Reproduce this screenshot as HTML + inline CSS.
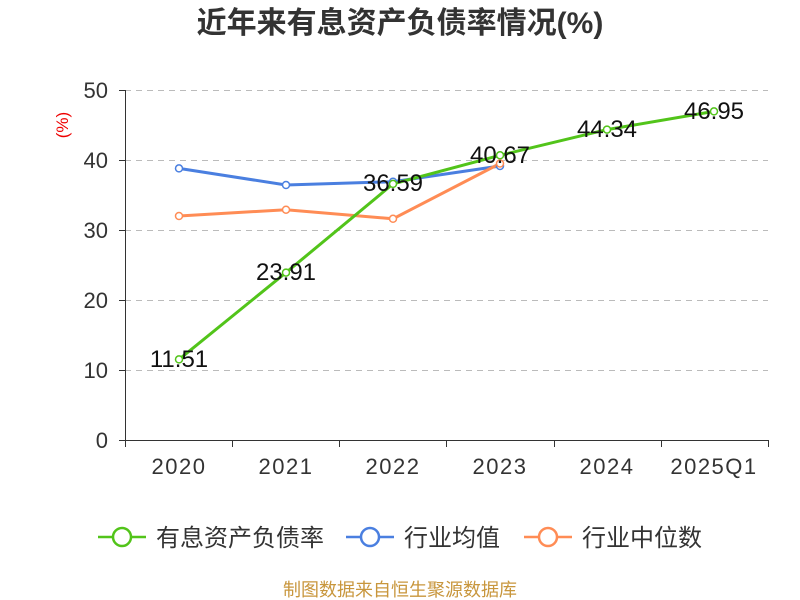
<!DOCTYPE html>
<html><head><meta charset="utf-8"><style>
body{margin:0;background:#fff;}
svg{display:block;font-family:"Liberation Sans","Noto Sans CJK SC",sans-serif;}
</style></head><body>
<svg width="800" height="600" xmlns="http://www.w3.org/2000/svg">
<text x="400" y="33" text-anchor="middle" font-size="30" font-weight="bold" fill="#333">近年来有息资产负债率情况(%)</text>
<text x="68" y="125" text-anchor="middle" font-size="17" fill="#e00" transform="rotate(-90 68 125)">(%)</text>
<g stroke="#bbb" stroke-dasharray="6,5" stroke-width="1">
<line x1="125" y1="90.5" x2="768" y2="90.5"/><line x1="125" y1="160.5" x2="768" y2="160.5"/>
<line x1="125" y1="230.5" x2="768" y2="230.5"/><line x1="125" y1="300.5" x2="768" y2="300.5"/>
<line x1="125" y1="370.5" x2="768" y2="370.5"/>
</g>
<g stroke="#333" stroke-width="1">
<line x1="125.5" y1="90" x2="125.5" y2="440"/>
<line x1="125" y1="440.5" x2="769" y2="440.5"/>
<line x1="119" y1="90.5" x2="125" y2="90.5"/><line x1="119" y1="160.5" x2="125" y2="160.5"/>
<line x1="119" y1="230.5" x2="125" y2="230.5"/><line x1="119" y1="300.5" x2="125" y2="300.5"/>
<line x1="119" y1="370.5" x2="125" y2="370.5"/><line x1="119" y1="440.5" x2="125" y2="440.5"/>
<line x1="125.5" y1="440" x2="125.5" y2="447"/><line x1="232.5" y1="440" x2="232.5" y2="447"/>
<line x1="339.5" y1="440" x2="339.5" y2="447"/><line x1="446.5" y1="440" x2="446.5" y2="447"/>
<line x1="554.5" y1="440" x2="554.5" y2="447"/><line x1="661.5" y1="440" x2="661.5" y2="447"/>
<line x1="768.5" y1="440" x2="768.5" y2="447"/>
</g>
<g font-size="22" fill="#333" text-anchor="end">
<text x="108" y="98">50</text><text x="108" y="168">40</text><text x="108" y="238">30</text>
<text x="108" y="308">20</text><text x="108" y="378">10</text><text x="108" y="448">0</text>
</g>
<g font-size="22" fill="#333" text-anchor="middle" letter-spacing="1.5">
<text x="179" y="474">2020</text><text x="286" y="474">2021</text><text x="393" y="474">2022</text>
<text x="500" y="474">2023</text><text x="607" y="474">2024</text><text x="714" y="474">2025Q1</text>
</g>
<polyline fill="none" stroke="#4a7fe0" stroke-width="3" points="179,168.4 286,185 393,181.7 500,166"/>
<polyline fill="none" stroke="#ff8c55" stroke-width="3" points="179,216 286,209.7 393,218.8 500,163.5"/>
<polyline fill="none" stroke="#52c41a" stroke-width="3" points="179,359.4 286,272.6 393,183.9 500,155.3 607,129.6 714,111.4"/>
<g fill="#fff" stroke-width="1.5">
<g stroke="#4a7fe0"><circle cx="179" cy="168.4" r="3.5"/><circle cx="286" cy="185" r="3.5"/><circle cx="393" cy="181.7" r="3.5"/><circle cx="500" cy="166" r="3.5"/></g>
<g stroke="#ff8c55"><circle cx="179" cy="216" r="3.5"/><circle cx="286" cy="209.7" r="3.5"/><circle cx="393" cy="218.8" r="3.5"/><circle cx="500" cy="163.5" r="3.5"/></g>
<g stroke="#52c41a"><circle cx="179" cy="359.4" r="3.5"/><circle cx="286" cy="272.6" r="3.5"/><circle cx="393" cy="183.9" r="3.5"/><circle cx="500" cy="155.3" r="3.5"/><circle cx="607" cy="129.6" r="3.5"/><circle cx="714" cy="111.4" r="3.5"/></g>
</g>
<g font-size="24" fill="#111" text-anchor="middle">
<text x="179" y="367">11.51</text><text x="286" y="280">23.91</text><text x="393" y="191">36.59</text>
<text x="500" y="163">40.67</text><text x="607" y="137">44.34</text><text x="714" y="119">46.95</text>
</g>
<g stroke-width="2.5" fill="#fff">
<line x1="98" y1="537" x2="146" y2="537" stroke="#52c41a"/><circle cx="122" cy="537" r="9" stroke="#52c41a"/>
<line x1="346" y1="537" x2="394" y2="537" stroke="#4a7fe0"/><circle cx="370" cy="537" r="9" stroke="#4a7fe0"/>
<line x1="524" y1="537" x2="572" y2="537" stroke="#ff8c55"/><circle cx="548" cy="537" r="9" stroke="#ff8c55"/>
</g>
<g font-size="24" fill="#333">
<text x="156" y="546">有息资产负债率</text><text x="404" y="546">行业均值</text><text x="582" y="546">行业中位数</text>
</g>
<text x="400" y="596" text-anchor="middle" font-size="18" fill="#c8963c">制图数据来自恒生聚源数据库</text>
</svg>
</body></html>
